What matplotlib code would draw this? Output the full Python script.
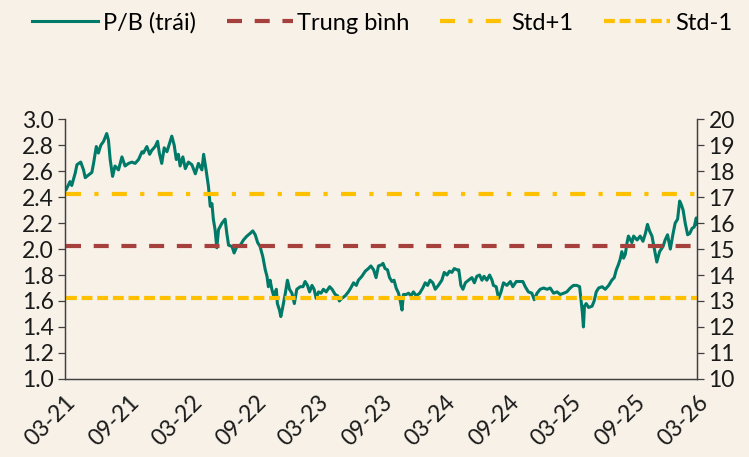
import matplotlib
matplotlib.use('Agg')
import matplotlib.pyplot as plt
import matplotlib.dates as mdates
import matplotlib.transforms as mtransforms
import pandas as pd

plt.rcParams['font.family'] = ['Lato', 'DejaVu Sans']

# P/B (trái)
dates = [
    '2021-03-04', '2021-03-15', '2021-03-20', '2021-03-30', '2021-04-04', '2021-04-15', '2021-04-23', '2021-04-28',
    '2021-05-07', '2021-05-17', '2021-05-22', '2021-05-30', '2021-06-05', '2021-06-12', '2021-06-20', '2021-06-29',
    '2021-07-04', '2021-07-09', '2021-07-16', '2021-07-23', '2021-08-02', '2021-08-12', '2021-08-21', '2021-08-31',
    '2021-09-10', '2021-09-19', '2021-09-29', '2021-10-09', '2021-10-13', '2021-10-23', '2021-10-31', '2021-11-06',
    '2021-11-16', '2021-11-23', '2021-11-28', '2021-12-05', '2021-12-12', '2021-12-20', '2021-12-27', '2022-01-03',
    '2022-01-10', '2022-01-16', '2022-01-22', '2022-01-27', '2022-02-04', '2022-02-11', '2022-02-20', '2022-03-02',
    '2022-03-12', '2022-03-21', '2022-03-31', '2022-04-05', '2022-04-12', '2022-04-19', '2022-04-24', '2022-04-29',
    '2022-05-03', '2022-05-08', '2022-05-13', '2022-05-18', '2022-05-28', '2022-05-31', '2022-06-06', '2022-06-11',
    '2022-06-16', '2022-06-26', '2022-07-02', '2022-07-10', '2022-07-20', '2022-07-29', '2022-08-08', '2022-08-17',
    '2022-08-25', '2022-09-01', '2022-09-08', '2022-09-15', '2022-09-23', '2022-09-30', '2022-10-05', '2022-10-09',
    '2022-10-14', '2022-10-19', '2022-10-24', '2022-11-01', '2022-11-04', '2022-11-10', '2022-11-14', '2022-11-20',
    '2022-11-27', '2022-12-03', '2022-12-09', '2022-12-16', '2022-12-23', '2022-12-30', '2023-01-09', '2023-01-17',
    '2023-01-23', '2023-01-30', '2023-02-05', '2023-02-12', '2023-02-18', '2023-02-24', '2023-03-03', '2023-03-10',
    '2023-03-17', '2023-03-25', '2023-04-04', '2023-04-11', '2023-04-20', '2023-04-27', '2023-05-02', '2023-05-09',
    '2023-05-19', '2023-05-28', '2023-06-04', '2023-06-12', '2023-06-20', '2023-06-26', '2023-07-06', '2023-07-16',
    '2023-07-25', '2023-08-01', '2023-08-09', '2023-08-16', '2023-08-23', '2023-09-02', '2023-09-05', '2023-09-11',
    '2023-09-18', '2023-09-24', '2023-10-01', '2023-10-07', '2023-10-13', '2023-10-20', '2023-10-25', '2023-10-30',
    '2023-11-03', '2023-11-11', '2023-11-18', '2023-11-25', '2023-12-02', '2023-12-10', '2023-12-20', '2023-12-29',
    '2024-01-05', '2024-01-12', '2024-01-19', '2024-01-27', '2024-02-03', '2024-02-12', '2024-02-22', '2024-02-29',
    '2024-03-08', '2024-03-15', '2024-03-22', '2024-03-29', '2024-04-06', '2024-04-11', '2024-04-17', '2024-04-23',
    '2024-04-30', '2024-05-09', '2024-05-19', '2024-05-26', '2024-06-02', '2024-06-10', '2024-06-17', '2024-06-23',
    '2024-07-01', '2024-07-09', '2024-07-16', '2024-07-20', '2024-07-28', '2024-08-04', '2024-08-11', '2024-08-18',
    '2024-08-28', '2024-09-07', '2024-09-14', '2024-09-24', '2024-10-03', '2024-10-13', '2024-10-20', '2024-10-29',
    '2024-11-08', '2024-11-15', '2024-11-23', '2024-12-02', '2024-12-12', '2024-12-22', '2024-12-31', '2025-01-10',
    '2025-01-20', '2025-01-29', '2025-02-08', '2025-02-17', '2025-02-27', '2025-03-08', '2025-03-18', '2025-03-26',
    '2025-03-30', '2025-04-03', '2025-04-06', '2025-04-09', '2025-04-14', '2025-04-21', '2025-05-01', '2025-05-07',
    '2025-05-13', '2025-05-20', '2025-05-30', '2025-06-08', '2025-06-18', '2025-06-27', '2025-07-04', '2025-07-10',
    '2025-07-16', '2025-07-21', '2025-07-26', '2025-07-31', '2025-08-05', '2025-08-10', '2025-08-14', '2025-08-24',
    '2025-08-29', '2025-09-08', '2025-09-17', '2025-09-25', '2025-10-02', '2025-10-08', '2025-10-14', '2025-10-21',
    '2025-10-28', '2025-11-04', '2025-11-12', '2025-11-22', '2025-11-28', '2025-12-05', '2025-12-13', '2025-12-21',
    '2025-12-27', '2026-01-03', '2026-01-09', '2026-01-14', '2026-01-19', '2026-01-25', '2026-02-01', '2026-02-07',
    '2026-02-14', '2026-02-20', '2026-02-26', '2026-02-28',
]
pb = [
    2.46, 2.52, 2.49, 2.585, 2.65, 2.67, 2.61, 2.55,
    2.57, 2.59, 2.66, 2.79, 2.74, 2.80, 2.83, 2.89,
    2.84, 2.69, 2.56, 2.64, 2.61, 2.71, 2.64, 2.66,
    2.67, 2.66, 2.69, 2.75, 2.74, 2.79, 2.73, 2.76,
    2.79, 2.83, 2.74, 2.66, 2.78, 2.75, 2.81, 2.87,
    2.80, 2.69, 2.73, 2.64, 2.71, 2.62, 2.67, 2.65,
    2.58, 2.66, 2.61, 2.73, 2.61, 2.48, 2.33, 2.35,
    2.23, 2.15, 2.01, 2.15, 2.20, 2.21, 2.23, 2.12,
    2.03, 2.02, 1.97, 2.02, 2.03, 2.07, 2.10, 2.12,
    2.14, 2.11, 2.05, 2.02, 1.94, 1.84, 1.79, 1.71,
    1.76, 1.69, 1.64, 1.69, 1.58, 1.53, 1.48, 1.56,
    1.66, 1.76, 1.69, 1.66, 1.58, 1.69, 1.71, 1.71,
    1.75, 1.72, 1.67, 1.72, 1.69, 1.62, 1.67, 1.66,
    1.69, 1.67, 1.71, 1.69, 1.65, 1.64, 1.60, 1.62,
    1.64, 1.67, 1.70, 1.74, 1.72, 1.76, 1.79, 1.83,
    1.85, 1.87, 1.84, 1.78, 1.87, 1.88, 1.89, 1.85,
    1.84, 1.78, 1.75, 1.76, 1.70, 1.66, 1.60, 1.53,
    1.65, 1.65, 1.66, 1.64, 1.67, 1.64, 1.66, 1.70,
    1.74, 1.72, 1.76, 1.74, 1.69, 1.72, 1.76, 1.82,
    1.80, 1.83, 1.82, 1.85, 1.84, 1.84, 1.72, 1.69,
    1.74, 1.76, 1.78, 1.74, 1.79, 1.80, 1.76, 1.79,
    1.76, 1.80, 1.76, 1.72, 1.71, 1.62, 1.67, 1.74,
    1.72, 1.75, 1.71, 1.75, 1.75, 1.75, 1.71, 1.67,
    1.66, 1.61, 1.66, 1.69, 1.70, 1.69, 1.70, 1.66,
    1.67, 1.65, 1.66, 1.67, 1.70, 1.72, 1.72, 1.71,
    1.61, 1.51, 1.40, 1.56, 1.58, 1.55, 1.56, 1.60,
    1.67, 1.70, 1.71, 1.69, 1.72, 1.76, 1.78, 1.84,
    1.88, 1.92, 1.98, 1.93, 1.96, 2.05, 2.10, 2.05,
    2.10, 2.07, 2.10, 2.06, 2.12, 2.19, 2.14, 2.10,
    2.00, 1.90, 1.98, 2.02, 2.07, 2.11, 2.00, 2.12,
    2.20, 2.23, 2.37, 2.34, 2.30, 2.20, 2.11, 2.12,
    2.16, 2.17, 2.24, 2.19,
]
trung_binh = 2.025
std_plus = 2.425
std_minus = 1.625

x = pd.to_datetime(dates)

bg = '#F7F1E7'
fig = plt.figure(figsize=(7.49, 4.57), dpi=100, facecolor=bg)
ax = fig.add_axes([0.087, 0.171, 0.844, 0.568], facecolor=bg)
ax2 = ax.twinx()

ax.plot(x, pb, color='#007A68', lw=2.2, label='P/B (trái)', zorder=2)
ax.plot(x, [trung_binh] * len(x), color='#A6403C', lw=3, dashes=(3.6, 3.05), label='Trung bình', zorder=3)
ax.plot(x, [std_plus] * len(x), color='#FFC000', lw=3, dashes=(3.6, 3.2, 1, 3.2), label='Std+1', zorder=3)
ax.plot(x, [std_minus] * len(x), color='#FFC000', lw=3, dashes=(2.6, 1.15), label='Std-1', zorder=3)

ax.set_ylim(1.0, 3.0)
ax.set_yticks([1.0, 1.2, 1.4, 1.6, 1.8, 2.0, 2.2, 2.4, 2.6, 2.8, 3.0])
ax.yaxis.set_major_formatter(matplotlib.ticker.FormatStrFormatter('%.1f'))
ax2.set_ylim(10, 20)
ax2.set_yticks(range(10, 21))

ax.set_xlim(pd.Timestamp('2021-03-01'), pd.Timestamp('2026-03-01'))
ax.xaxis.set_major_locator(mdates.MonthLocator(bymonth=[3, 9]))
ax.xaxis.set_major_formatter(mdates.DateFormatter('%m-%y'))
shift = mtransforms.ScaledTranslation(0.07, 0, fig.dpi_scale_trans)
for lbl in ax.get_xticklabels():
    lbl.set_rotation(45)
    lbl.set_ha('right')
    lbl.set_rotation_mode('anchor')
    lbl.set_transform(lbl.get_transform() + shift)

for a in (ax, ax2):
    a.spines['top'].set_visible(False)
    for s in ('left', 'right', 'bottom'):
        a.spines[s].set_color('#404040')
        a.spines[s].set_linewidth(0.9)
    a.tick_params(axis='y', labelsize=16.5, length=5, width=0.9, color='#404040', labelcolor='#1a1a1a', pad=3)
ax.tick_params(axis='x', labelsize=16.5, length=0, labelcolor='#1a1a1a', pad=9)

fig.legend(loc='upper center', bbox_to_anchor=(0.51, 1.02), ncol=4, frameon=False,
           fontsize=17, handlelength=2.8, columnspacing=1.3, handletextpad=0.2)

fig.savefig('out.png', dpi=100, facecolor=bg)
